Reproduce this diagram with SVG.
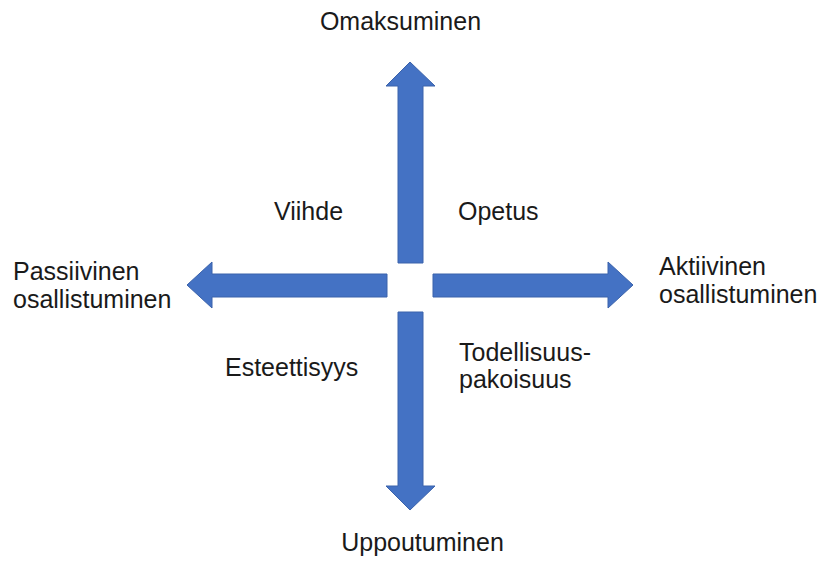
<svg xmlns="http://www.w3.org/2000/svg" width="818" height="561" viewBox="0 0 818 561">
  <style>
    .arrow { fill: #4472C4; stroke: #3A62AB; stroke-width: 1; stroke-linejoin: miter; }
    .lbl { font-family: "Liberation Sans", Arial, sans-serif; font-size: 25px; fill: #1a1a1a; }
  </style>
  <rect width="818" height="561" fill="#ffffff"/>
  <g id="connectors">
    <!-- up -->
    <polygon class="arrow" points="398,263 398,86 386,86 410,62 435,86 423,86 423,263"/>
    <!-- down -->
    <polygon class="arrow" points="398,312 398,486 386,486 410,510 435,486 423,486 423,312"/>
    <!-- left -->
    <polygon class="arrow" points="387,274 212,274 212,262 187,285 212,308 212,297 387,297"/>
    <!-- right -->
    <polygon class="arrow" points="433,274 608,274 608,262 633,285 608,308 608,297 433,297"/>
  </g>
  <g id="top"><text class="lbl" x="400.5" y="30" text-anchor="middle">Omaksuminen</text></g>
  <g id="bottom"><text class="lbl" x="422.5" y="551" text-anchor="middle">Uppoutuminen</text></g>
  <g id="left"><text class="lbl" x="13" y="280">Passiivinen</text><text class="lbl" x="13" y="308">osallistuminen</text></g>
  <g id="right"><text class="lbl" x="659" y="275">Aktiivinen</text><text class="lbl" x="659" y="303">osallistuminen</text></g>
  <g id="q-viihde"><text class="lbl" x="274" y="220">Viihde</text></g>
  <g id="q-opetus"><text class="lbl" x="458" y="220">Opetus</text></g>
  <g id="q-esteettisyys"><text class="lbl" x="225" y="376">Esteettisyys</text></g>
  <g id="q-todellisuus"><text class="lbl" x="459" y="361">Todellisuus-</text><text class="lbl" x="459" y="388">pakoisuus</text></g>
</svg>
